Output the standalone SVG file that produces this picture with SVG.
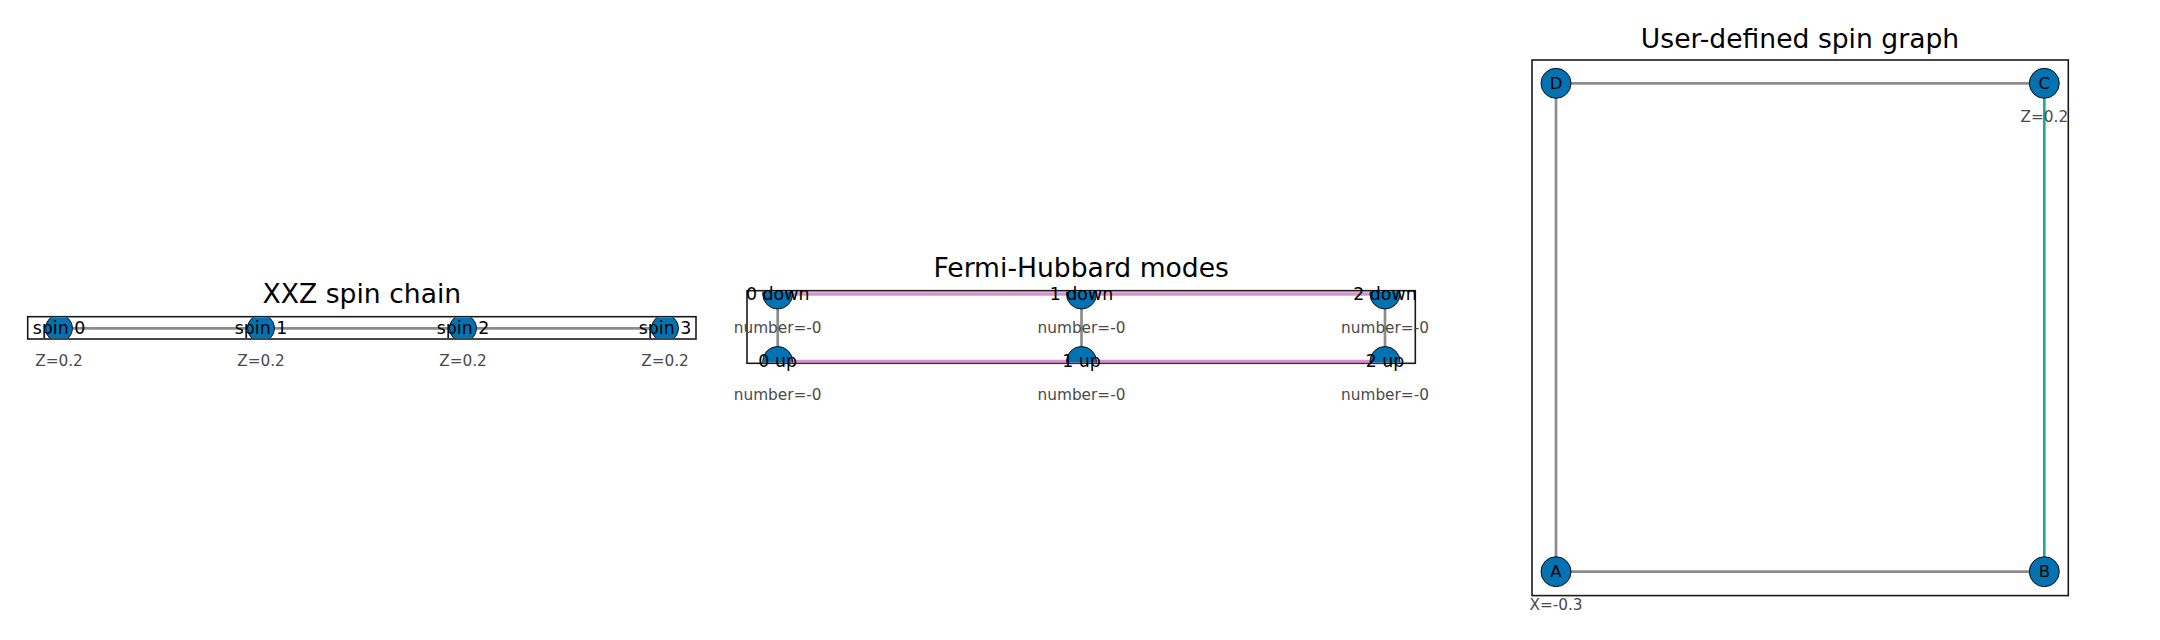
<svg xmlns="http://www.w3.org/2000/svg" width="2160" height="640" viewBox="0 0 2160 640">
  <style>
    text { font-family: "DejaVu Sans", "Liberation Sans", sans-serif; text-anchor: middle; }
    .title { font-size: 26.6px; fill: #000; }
    .lbl { font-size: 17.4px; fill: #000; }
    .lbl3 { font-size: 16.5px; fill: #000; }
    .ann { font-size: 15.3px; fill: #4a4a4a; }
    .frame { fill: none; stroke: #1a1a1a; stroke-width: 1.6; }
    .node { fill: #0173b2; stroke: #111; stroke-width: 1; }
    .eg { stroke: #8c8c8c; stroke-width: 2.7; fill: none; }
    .ep { stroke: #cc78bc; stroke-opacity: 0.8; stroke-width: 3.4; fill: none; }
    .egr { stroke: #029e73; stroke-opacity: 0.85; stroke-width: 2.7; fill: none; }
  </style>
  <defs>
    <clipPath id="clip1"><rect x="28.5" y="317.5" width="666.7" height="20.7"/></clipPath>
    <clipPath id="clip2"><rect x="747.8" y="291.5" width="666.7" height="71"/></clipPath>
  </defs>
  <rect width="2160" height="640" fill="#fff"/>

  <!-- panel frames and titles -->
  <g id="frames">
    <rect class="frame" x="27.7" y="316.7" width="668.3" height="22.3"/>
    <text class="title" x="361.9" y="303">XXZ spin chain</text>
    <rect class="frame" x="747" y="290.7" width="668.3" height="72.6"/>
    <text class="title" x="1081.2" y="277">Fermi-Hubbard modes</text>
    <rect class="frame" x="1532" y="60" width="536.3" height="535.6"/>
    <text class="title" x="1800" y="47.5">User-defined spin graph</text>
  </g>

  <g id="connectors">
    <!-- XXZ chain -->
    <line class="eg" x1="59" y1="328.3" x2="261" y2="328.3"/>
    <line class="eg" x1="261" y1="328.3" x2="463" y2="328.3"/>
    <line class="eg" x1="463" y1="328.3" x2="665" y2="328.3"/>
    <!-- Fermi-Hubbard -->
    <line class="ep" x1="777.7" y1="294" x2="1081.5" y2="294"/>
    <line class="ep" x1="1081.5" y1="294" x2="1385" y2="294"/>
    <line class="ep" x1="777.7" y1="361.5" x2="1081.5" y2="361.5"/>
    <line class="ep" x1="1081.5" y1="361.5" x2="1385" y2="361.5"/>
    <line class="eg" x1="777.7" y1="294" x2="777.7" y2="361.5"/>
    <line class="eg" x1="1081.5" y1="294" x2="1081.5" y2="361.5"/>
    <line class="eg" x1="1385" y1="294" x2="1385" y2="361.5"/>
    <!-- user graph -->
    <line class="eg" x1="1556" y1="83.3" x2="2044.3" y2="83.3"/>
    <line class="eg" x1="1556" y1="83.3" x2="1556" y2="571.7"/>
    <line class="eg" x1="1556" y1="571.7" x2="2044.3" y2="571.7"/>
    <line class="egr" x1="2044.3" y1="83.3" x2="2044.3" y2="571.7"/>
  </g>

  <!-- XXZ spin chain nodes -->
  <g id="spin0">
    <circle class="node" cx="59" cy="328.3" r="13.5" clip-path="url(#clip1)"/>
    <text class="lbl" x="59" y="333.8">spin 0</text>
    <text class="ann" x="59" y="366">Z=0.2</text>
  </g>
  <g id="spin1">
    <circle class="node" cx="261" cy="328.3" r="13.5" clip-path="url(#clip1)"/>
    <text class="lbl" x="261" y="333.8">spin 1</text>
    <text class="ann" x="261" y="366">Z=0.2</text>
  </g>
  <g id="spin2">
    <circle class="node" cx="463" cy="328.3" r="13.5" clip-path="url(#clip1)"/>
    <text class="lbl" x="463" y="333.8">spin 2</text>
    <text class="ann" x="463" y="366">Z=0.2</text>
  </g>
  <g id="spin3">
    <circle class="node" cx="665" cy="328.3" r="13.5" clip-path="url(#clip1)"/>
    <text class="lbl" x="665" y="333.8">spin 3</text>
    <text class="ann" x="665" y="366">Z=0.2</text>
  </g>

  <!-- Fermi-Hubbard nodes -->
  <g id="fh-0down">
    <circle class="node" cx="777.7" cy="294" r="15" clip-path="url(#clip2)"/>
    <text class="lbl" x="777.7" y="299.5">0 down</text>
    <text class="ann" x="777.7" y="333">number=-0</text>
  </g>
  <g id="fh-1down">
    <circle class="node" cx="1081.5" cy="294" r="15" clip-path="url(#clip2)"/>
    <text class="lbl" x="1081.5" y="299.5">1 down</text>
    <text class="ann" x="1081.5" y="333">number=-0</text>
  </g>
  <g id="fh-2down">
    <circle class="node" cx="1385" cy="294" r="15" clip-path="url(#clip2)"/>
    <text class="lbl" x="1385" y="299.5">2 down</text>
    <text class="ann" x="1385" y="333">number=-0</text>
  </g>
  <g id="fh-0up">
    <circle class="node" cx="777.7" cy="361.5" r="15" clip-path="url(#clip2)"/>
    <text class="lbl" x="777.7" y="367">0 up</text>
    <text class="ann" x="777.7" y="400">number=-0</text>
  </g>
  <g id="fh-1up">
    <circle class="node" cx="1081.5" cy="361.5" r="15" clip-path="url(#clip2)"/>
    <text class="lbl" x="1081.5" y="367">1 up</text>
    <text class="ann" x="1081.5" y="400">number=-0</text>
  </g>
  <g id="fh-2up">
    <circle class="node" cx="1385" cy="361.5" r="15" clip-path="url(#clip2)"/>
    <text class="lbl" x="1385" y="367">2 up</text>
    <text class="ann" x="1385" y="400">number=-0</text>
  </g>

  <!-- User-defined spin graph nodes -->
  <g id="node-D">
    <circle class="node" cx="1556" cy="83.3" r="15"/>
    <text class="lbl3" x="1556" y="89">D</text>
  </g>
  <g id="node-C">
    <circle class="node" cx="2044.3" cy="83.3" r="15"/>
    <text class="lbl3" x="2044.3" y="89">C</text>
    <text class="ann" x="2044.3" y="121.5">Z=0.2</text>
  </g>
  <g id="node-A">
    <circle class="node" cx="1556" cy="571.7" r="15"/>
    <text class="lbl3" x="1556" y="577.4">A</text>
    <text class="ann" x="1556" y="610">X=-0.3</text>
  </g>
  <g id="node-B">
    <circle class="node" cx="2044.3" cy="571.7" r="15"/>
    <text class="lbl3" x="2044.3" y="577.4">B</text>
  </g>
</svg>
